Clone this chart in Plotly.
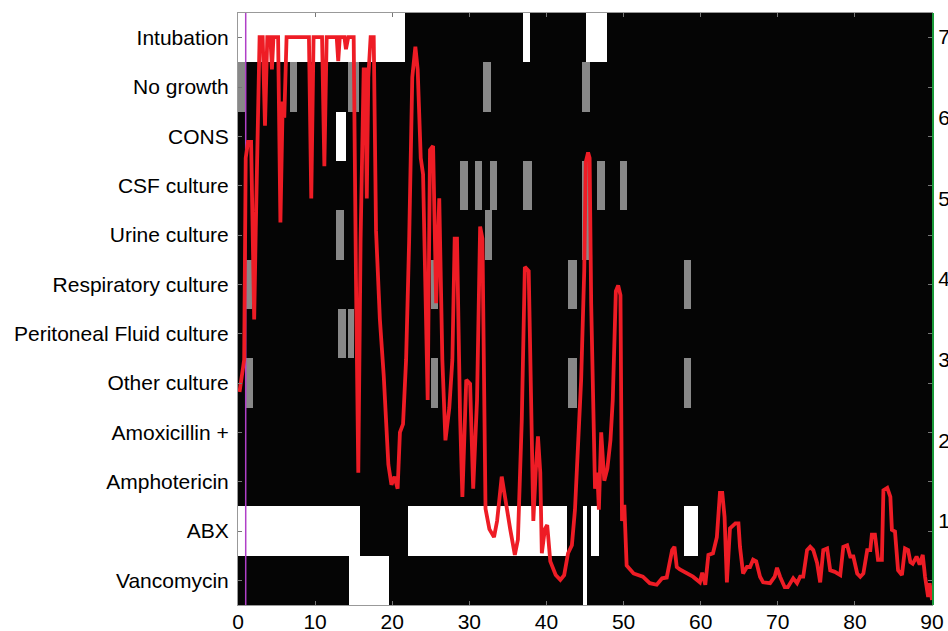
import plotly.graph_objects as go

# ---------------- data ----------------
row_labels = ["Intubation", "No growth", "CONS", "CSF culture", "Urine culture",
              "Respiratory culture", "Peritoneal Fluid culture", "Other culture",
              "Amoxicillin +", "Amphotericin", "ABX", "Vancomycin"]

# (start day, end day, level) ; level 1 = white (active), 0.5 = grey (sample)
intubation = [(0, 21.7, 1), (36.9, 37.9, 1), (45.1, 47.8, 1)]
no_growth = [(0, 1.1, .5), (6.7, 7.7, .5), (14.2, 15.7, .5), (31.8, 32.8, .5), (44.6, 45.6, .5)]
cons = [(12.7, 14.0, 1)]
csf_culture = [(28.8, 29.8, .5), (30.7, 31.7, .5), (32.7, 33.6, .5), (37.0, 38.1, .5),
               (44.6, 45.5, .5), (46.6, 47.6, .5), (49.5, 50.5, .5)]
urine_culture = [(12.7, 13.8, .5), (32.0, 32.9, .5), (44.6, 45.5, .5)]
respiratory_culture = [(0.9, 1.8, .5), (25.0, 26.0, .5), (42.8, 43.9, .5), (57.8, 58.8, .5)]
peritoneal_culture = [(13.0, 14.0, .5), (14.2, 15.0, .5)]
other_culture = [(0.9, 1.9, .5), (25.0, 26.0, .5), (42.8, 43.9, .5), (57.8, 58.8, .5)]
amoxicillin = []
amphotericin = []
abx = [(0, 15.8, 1), (22.0, 42.7, 1), (44.7, 45.3, 1), (45.8, 46.8, 1), (57.8, 59.6, 1)]
vancomycin = [(14.4, 19.6, 1), (44.8, 45.3, 1)]

row_intervals = [intubation, no_growth, cons, csf_culture, urine_culture,
                 respiratory_culture, peritoneal_culture, other_culture,
                 amoxicillin, amphotericin, abx, vancomycin]

event_day = 1.0  # vertical marker

day = [0.2, 0.5, 0.8, 1.0, 1.3, 1.7, 1.9, 2.1, 2.3, 2.6, 2.8, 3.2, 3.5, 3.8, 4.2, 4.4, 4.6, 5.2,
       5.5, 5.8, 6.0, 6.3, 9.2, 9.5, 9.8, 10.9, 11.2, 11.5, 12.8, 13.0, 13.2, 13.8, 14.0, 14.3,
       15.0, 15.3, 15.6, 15.9, 16.3, 16.5, 16.7, 16.9, 17.2, 17.6, 17.9, 18.4, 18.9, 19.5, 19.9,
       20.3, 20.7, 21.0, 21.4, 21.8, 22.2, 22.6, 23.0, 23.3, 23.7, 24.0, 24.3, 24.6, 24.9, 25.3,
       25.7, 26.1, 26.5, 26.9, 27.4, 27.8, 28.1, 28.4, 28.8, 29.1, 29.6, 30.1, 30.5, 31.0, 31.4,
       31.7, 32.1, 32.6, 33.2, 33.6, 34.2, 34.6, 35.3, 35.9, 36.3, 36.8, 37.2, 37.7, 38.0, 38.3,
       38.6, 38.9, 39.2, 39.4, 39.8, 40.1, 40.5, 41.2, 41.8, 42.3, 42.8, 43.3, 43.7, 44.1, 44.5,
       44.9, 45.1, 45.4, 45.6, 45.8, 46.1, 46.3, 46.6, 46.8, 47.1, 47.5, 47.9, 48.3, 48.6, 49.0,
       49.3, 49.6, 49.8, 50.1, 50.4, 51.3, 52.5, 53.4, 54.3, 55.0, 55.6, 56.3, 56.6, 56.9, 57.3,
       58.2, 59.0, 59.9, 60.2, 60.6, 61.0, 61.6, 62.1, 62.5, 62.8, 63.1, 63.4, 63.8, 64.5, 64.9,
       65.1, 65.5, 66.0, 66.4, 66.8, 67.2, 67.7, 68.1, 69.0, 69.6, 69.9, 70.3, 70.9, 71.3, 72.0,
       72.5, 72.9, 73.3, 73.8, 74.2, 74.6, 75.1, 75.5, 75.9, 76.4, 76.8, 77.4, 78.1, 78.5, 79.0,
       79.4, 79.8, 80.3, 80.7, 81.1, 81.6, 82.0, 82.2, 82.6, 83.0, 83.5, 83.7, 84.2, 84.6, 84.8,
       85.2, 85.6, 86.1, 86.5, 86.9, 87.2, 87.5, 88.0, 88.4, 88.8, 89.1, 89.5, 89.7, 90.0]
score = [2.6, 2.8, 3.0, 5.5, 5.7, 5.7, 4.6, 3.5, 4.6, 6.0, 7.0, 7.0, 5.9, 7.0, 7.0, 6.6, 7.0, 7.0,
         4.7, 6.2, 6.0, 7.0, 7.0, 5.0, 7.0, 7.0, 5.4, 7.0, 7.0, 6.7, 7.0, 7.0, 6.85, 7.0,
         7.0, 4.0, 1.6, 4.5, 6.6, 6.6, 5.0, 6.5, 7.0, 7.0, 4.6, 3.5, 2.8, 1.7, 1.45,
         1.55, 1.4, 2.1, 2.2, 3.0, 4.5, 6.5, 6.88, 6.6, 5.5, 5.3, 3.9, 2.5, 5.6, 5.65,
         3.7, 5.0, 3.0, 2.0, 2.4, 3.0, 4.5, 4.5, 2.3, 1.3, 2.75, 2.7, 1.4, 2.5, 4.65,
         4.5, 1.15, 0.9, 0.8, 1.0, 1.55, 1.3, 0.9, 0.58, 0.77, 2.25, 4.15, 4.1, 2.25, 1.0,
         1.6, 2.05, 1.6, 0.6, 0.9, 0.95, 0.5, 0.33, 0.27, 0.33, 0.6, 0.7, 1.14, 1.9, 2.75,
         4.1, 5.45, 5.57, 5.5, 3.7, 2.25, 1.4, 1.6, 1.14, 2.1, 1.5, 1.65, 2.0, 2.5, 3.85,
         3.92, 3.8, 1.0, 1.2, 0.45, 0.35, 0.31, 0.23, 0.21, 0.29, 0.3, 0.64, 0.68, 0.43, 0.4,
         0.35, 0.31, 0.24, 0.36, 0.21, 0.58, 0.6, 0.8, 1.35, 1.35, 1.05, 0.24, 0.91, 0.97, 0.97,
         0.68, 0.35, 0.43, 0.43, 0.52, 0.5, 0.31, 0.24, 0.23, 0.31, 0.42, 0.31, 0.18, 0.18, 0.29,
         0.23, 0.31, 0.31, 0.64, 0.68, 0.64, 0.48, 0.24, 0.64, 0.66, 0.39, 0.37, 0.33, 0.68, 0.7,
         0.56, 0.56, 0.35, 0.31, 0.35, 0.64, 0.64, 0.83, 0.83, 0.52, 0.52, 1.38, 1.41, 1.3, 0.89,
         0.87, 0.39, 0.33, 0.66, 0.64, 0.49, 0.47, 0.56, 0.46, 0.58, 0.31, 0.06, 0.23, 0.02]

x_ticks = [0, 10, 20, 30, 40, 50, 60, 70, 80, 90]
right_ticks = [1, 2, 3, 4, 5, 6, 7]

# ---------------- build heatmap grid from intervals ----------------
edges = {0.0, 90.0}
for ivs in row_intervals:
    for a, b, _ in ivs:
        edges.add(float(a))
        edges.add(float(b))
edges = sorted(edges)
mids = [(edges[i] + edges[i + 1]) / 2 for i in range(len(edges) - 1)]
z = []
for ivs in row_intervals:
    row = []
    for m in mids:
        v = 0
        for a, b, lvl in ivs:
            if a <= m < b:
                v = lvl
        row.append(v)
    z.append(row)
y_edges = [i - 0.5 for i in range(len(row_labels) + 1)]

FONT = "Liberation Sans, Arial, sans-serif"

fig = go.Figure()
fig.add_trace(go.Heatmap(
    x=edges, y=y_edges, z=z, zmin=0, zmax=1,
    colorscale=[[0, "#050505"], [0.5, "#888888"], [1, "#ffffff"]],
    showscale=False, hoverinfo="skip"))
fig.add_trace(go.Scatter(
    x=[event_day, event_day], y=[-0.5, 11.5], mode="lines",
    line=dict(color="#b040c8", width=1.5), hoverinfo="skip", showlegend=False))
fig.add_trace(go.Scatter(
    x=day, y=score, mode="lines", yaxis="y2",
    line=dict(color="#ee1c25", width=3.8), hoverinfo="skip", showlegend=False))

fig.update_layout(
    width=948, height=631,
    margin=dict(l=238, r=16, t=13, b=26),
    paper_bgcolor="white", plot_bgcolor="#050505",
    font=dict(family=FONT, color="black"),
    showlegend=False,
    xaxis=dict(range=[0, 90], tickvals=x_ticks, ticks="inside", ticklen=4,
               tickcolor="#777", mirror="ticks", showline=True, linecolor="#999",
               showgrid=False, zeroline=False, tickfont=dict(size=21), automargin=False,
               ticklabelstandoff=-2),
    yaxis=dict(range=[11.5, -0.5], tickvals=list(range(len(row_labels))),
               ticktext=row_labels, ticks="inside", ticklen=4, tickcolor="#777",
               mirror="ticks", showline=True, linecolor="#999", showgrid=False,
               zeroline=False, tickfont=dict(size=21), ticklabelstandoff=4,
               automargin=False),
    yaxis2=dict(overlaying="y", side="right", range=[-0.041, 7.298],
                tickvals=right_ticks, ticks="", showline=True, linecolor="#1a9a3a",
                linewidth=2, showgrid=False, zeroline=False, tickfont=dict(size=21),
                automargin=False),
)

fig.write_html("out.html",
               config={"displayModeBar": False},
               post_script="document.body.style.margin='0';"
                           "document.body.style.overflow='hidden';")
